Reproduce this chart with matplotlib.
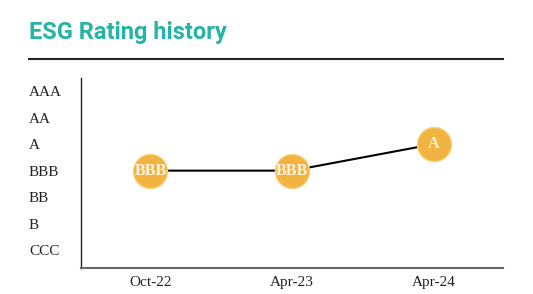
import matplotlib.pyplot as plt
from matplotlib.lines import Line2D

grades = ["CCC", "B", "BB", "BBB", "A", "AA", "AAA"]
dates = ["Oct-22", "Apr-23", "Apr-24"]
ratings = ["BBB", "BBB", "A"]

naranja = "#f2b440"
verde = "#26b4a8"

fig = plt.figure(figsize=(5.33, 2.94), dpi=100)
ax = fig.add_axes([0.152, 0.088, 0.792, 0.647])

xs = list(range(len(dates)))
ys = [grades.index(r) for r in ratings]
ax.plot(xs, ys, color="black", lw=1.5, zorder=1)
ax.scatter(xs, ys, s=34 ** 2 * 0.5184, color=naranja, edgecolors="#f8cf7a", linewidths=1, zorder=2)
for x, y, r in zip(xs, ys, ratings):
    ax.text(x, y, r, ha="center", va="center", color="#fdf3dd", fontsize=11.5,
            fontweight="bold", family="Liberation Serif", zorder=3)

ax.set_xlim(-0.49, 2.49)
ax.set_ylim(-0.68, 6.5)
ax.set_xticks(xs)
ax.set_xticklabels(dates, family="Liberation Serif", fontsize=11, color="#222222")
ax.set_yticks(range(len(grades)))
ax.set_yticklabels(grades, family="Liberation Serif", fontsize=11, color="#222222", ha="left")
# pad en puntos: etiquetas alineadas a la izquierda en x~29 px
ax.tick_params(axis="y", length=0, pad=37.5)
ax.tick_params(axis="x", length=0, pad=6)
ax.spines["top"].set_visible(False)
ax.spines["right"].set_visible(False)
ax.spines["left"].set_color("#222222")
ax.spines["bottom"].set_color("#666666")
ax.spines["left"].set_linewidth(1.0)
ax.spines["bottom"].set_linewidth(1.5)

fig.text(29 / 533, 1 - 33 / 294, "ESG Rating history", color=verde, fontsize=17,
         fontweight="bold", family="Roboto", va="center", ha="left")
fig.add_artist(Line2D([29 / 533, 503 / 533], [1 - 59 / 294, 1 - 59 / 294],
                      color="#222222", lw=1.5, transform=fig.transFigure))

fig.savefig("out.png", dpi=100)
